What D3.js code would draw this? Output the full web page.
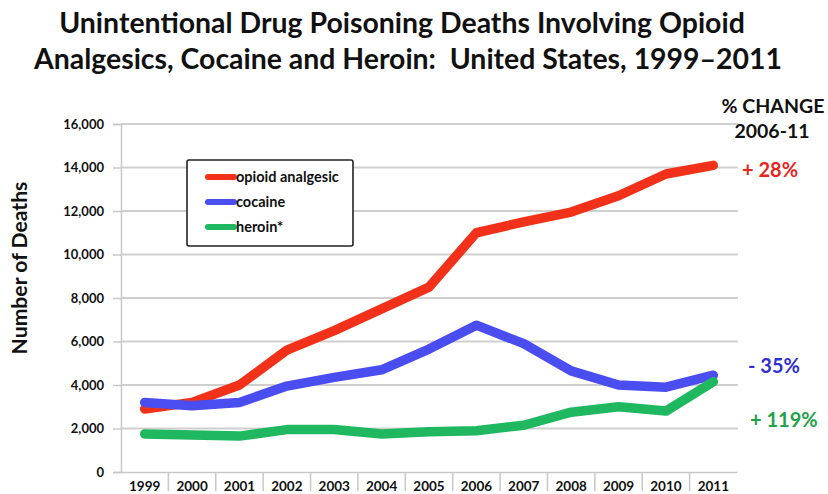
<!DOCTYPE html>
<html>
<head>
<meta charset="utf-8">
<script src="https://cdn.jsdelivr.net/npm/d3@7"></script>
<style>
  html, body { margin: 0; padding: 0; background: #fff; }
  svg { display: block; font-family: Lato, "Open Sans", sans-serif; }
</style>
</head>
<body>
<svg id="chart" width="828" height="494"></svg>
<script>
// Unintentional drug poisoning deaths, United States, 1999–2011
const years = ["1999","2000","2001","2002","2003","2004","2005","2006","2007","2008","2009","2010","2011"];
const opioidAnalgesic = [2900, 3200, 4000, 5600, 6500, 7500, 8500, 11000, 11500, 11950, 12700, 13700, 14100];
const cocaine         = [3200, 3050, 3200, 3950, 4350, 4700, 5650, 6750, 5900, 4650, 4000, 3900, 4450];
const heroin          = [1750, 1700, 1650, 1950, 1950, 1750, 1850, 1900, 2150, 2750, 3000, 2800, 4150];
const yTicks = [0, 2000, 4000, 6000, 8000, 10000, 12000, 14000, 16000];
const seriesNames = ["opioid analgesic", "cocaine", "heroin*"];
const changeLabels = ["+ 28%", "- 35%", "+ 119%"];

const colors = ["#f2311a", "#4a4df0", "#1fb860"];
const labelColors = ["#e5261c", "#2f2fd2", "#22a24c"];

const svg = d3.select("#chart");
const fmt = d3.format(",");

const x = d3.scaleBand().domain(years).range([121, 737]).padding(0);
const y = d3.scaleLinear().domain([0, 16000]).range([472, 124]);
const cx = d => x(d) + x.bandwidth() / 2;

// Scale a text element's font size so its rendered width equals the target
function fitText(sel, target) {
  const w = sel.node().getComputedTextLength();
  const fs = parseFloat(sel.attr("font-size"));
  sel.attr("font-size", fs * target / w);
}

// Title
const t1 = svg.append("text").attr("x", 402).attr("y", 33).attr("text-anchor", "middle")
  .attr("font-size", 25).attr("font-weight", 700).attr("fill", "#111")
  .text("Unintentional Drug Poisoning Deaths Involving Opioid");
fitText(t1, 686);
const t2 = svg.append("text").attr("x", 408).attr("y", 69).attr("text-anchor", "middle")
  .attr("font-size", 25).attr("font-weight", 700).attr("fill", "#111")
  .attr("xml:space", "preserve")
  .text("Analgesics, Cocaine and Heroin:  United States, 1999\u20132011");
fitText(t2, 748);

// Gridlines
svg.append("g").selectAll("line").data(yTicks.filter(d => d > 0)).join("line")
  .attr("x1", 121).attr("x2", 738)
  .attr("y1", d => y(d)).attr("y2", d => y(d))
  .attr("stroke", "#cfcfcf").attr("stroke-width", 2);

// Y axis
const yAxis = svg.append("g").attr("transform", "translate(121,0)")
  .call(d3.axisLeft(y).tickValues(yTicks).tickFormat(fmt).tickSize(8).tickPadding(9));
yAxis.select(".domain").attr("stroke", "#c8c8c8").attr("stroke-width", 1.5);
yAxis.selectAll(".tick line").attr("stroke", "#c8c8c8").attr("stroke-width", 1.5);
yAxis.selectAll(".tick text").attr("font-size", 13).attr("font-weight", 700)
  .attr("fill", "#111").attr("font-family", "Lato, sans-serif");

// X axis: year labels with separators between the categories
const xAxis = svg.append("g").attr("transform", "translate(0,472)")
  .call(d3.axisBottom(x).tickSize(0).tickPadding(9));
xAxis.select(".domain").attr("stroke", "#c8c8c8").attr("stroke-width", 1.5);
xAxis.selectAll(".tick text").attr("font-size", 13.5).attr("font-weight", 700)
  .attr("fill", "#111").attr("font-family", "Lato, sans-serif");
svg.append("g").selectAll("line").data(years.slice(1)).join("line")
  .attr("x1", d => x(d)).attr("x2", d => x(d))
  .attr("y1", 472).attr("y2", 491)
  .attr("stroke", "#c8c8c8").attr("stroke-width", 1.5);

// Y axis title
const yt = svg.append("text").attr("transform", "translate(27,268) rotate(-90)")
  .attr("text-anchor", "middle").attr("font-size", 17).attr("font-weight", 700)
  .attr("fill", "#111").text("Number of Deaths");
fitText(yt, 173);

// Series lines
const line = d3.line().x((d, i) => cx(years[i])).y(d => y(d));
[opioidAnalgesic, cocaine, heroin].forEach((vals, i) => {
  svg.append("path").datum(vals).attr("d", line)
    .attr("fill", "none").attr("stroke", colors[i]).attr("stroke-width", 9.5)
    .attr("stroke-linejoin", "round").attr("stroke-linecap", "round");
});

// Legend
const lg = svg.append("g");
lg.append("rect").attr("x", 187).attr("y", 160).attr("width", 166).attr("height", 86)
  .attr("rx", 2).attr("fill", "#fff").attr("stroke", "#222").attr("stroke-width", 1.6);
seriesNames.forEach((name, i) => {
  const yy = 177 + i * 25;
  lg.append("line").attr("x1", 208).attr("x2", 234).attr("y1", yy).attr("y2", yy)
    .attr("stroke", colors[i]).attr("stroke-width", 6).attr("stroke-linecap", "round");
  lg.append("text").attr("x", 236).attr("y", yy + 5).attr("font-size", 14.5)
    .attr("font-weight", 700).attr("fill", "#111").text(name);
});

// Percent change annotations
const h1 = svg.append("text").attr("x", 773).attr("y", 113).attr("text-anchor", "middle")
  .attr("font-size", 20).attr("font-weight", 700).attr("fill", "#111").text("% CHANGE");
fitText(h1, 103);
const h2 = svg.append("text").attr("x", 772).attr("y", 138).attr("text-anchor", "middle")
  .attr("font-size", 20).attr("font-weight", 700).attr("fill", "#111").text("2006-11");
fitText(h2, 75);
const changeY = [177, 373, 427];
const changeX = [742, 748, 750];
changeLabels.forEach((lab, i) => {
  svg.append("text").attr("x", changeX[i]).attr("y", changeY[i])
    .attr("font-size", 20).attr("font-weight", 700).attr("fill", labelColors[i]).text(lab);
});
</script>
</body>
</html>
